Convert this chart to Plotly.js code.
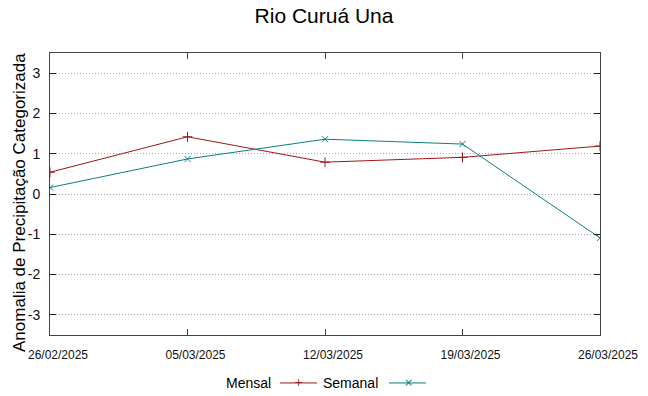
<!DOCTYPE html>
<html>
<head>
<meta charset="utf-8">
<script src="https://cdn.plot.ly/plotly-3.0.1.min.js"></script>
<style>html,body{margin:0;padding:0;background:#fff;}#chart{width:648px;height:396px;}</style>
</head>
<body>
<div id="chart"></div>
<script>
const dates = ["26/02/2025", "05/03/2025", "12/03/2025", "19/03/2025", "26/03/2025"];
const mensal = [0.54, 1.42, 0.79, 0.91, 1.19];
const semanal = [0.16, 0.87, 1.36, 1.24, -1.09];
const yTicks = [-3, -2, -1, 0, 1, 2, 3];
const seriesNames = ["Mensal", "Semanal"];
const yTitle = "Anomalia de Precipitação Categorizada";
const colMensal = "#a01616";
const colSemanal = "#0a7f7f";

const traces = [
  {x: dates, y: mensal, name: seriesNames[0], type: "scatter", mode: "lines+markers",
   line: {color: colMensal, width: 1},
   marker: {symbol: "cross-thin", size: 7, color: colMensal, line: {color: colMensal, width: 1}},
   showlegend: false},
  {x: dates, y: semanal, name: seriesNames[1], type: "scatter", mode: "lines+markers",
   line: {color: colSemanal, width: 1},
   marker: {symbol: "x-thin", size: 6, color: colSemanal, line: {color: colSemanal, width: 1}},
   showlegend: false}
];

const font = "Liberation Sans, Arial, sans-serif";
// custom gnuplot-style legend (text then sample), paper coords of plot area
const legY = -0.170;
const annotations = [
  {xref: "paper", yref: "paper", x: 0.4055, y: legY, text: seriesNames[0], showarrow: false, xanchor: "right", yanchor: "middle", font: {family: font, size: 14, color: "#000"}},
  {xref: "paper", yref: "paper", x: 0.6, y: legY, text: seriesNames[1], showarrow: false, xanchor: "right", yanchor: "middle", font: {family: font, size: 14, color: "#000"}},
  {xref: "paper", yref: "paper", x: 0.4527, y: legY, text: "+", showarrow: false, xanchor: "center", yanchor: "middle", font: {family: "DejaVu Sans", size: 11, color: colMensal}},
  {xref: "paper", yref: "paper", x: 0.651, y: legY, text: "×", showarrow: false, xanchor: "center", yanchor: "middle", font: {family: "DejaVu Sans", size: 11, color: colSemanal}},
  {xref: "paper", yref: "paper", x: -0.0564, y: 0.4716, text: yTitle, textangle: -90, showarrow: false, xanchor: "center", yanchor: "middle", font: {family: font, size: 17, color: "#000"}}
];
const shapes = [
  {type: "line", xref: "paper", yref: "paper", x0: 0.418, x1: 0.4855, y0: legY, y1: legY, line: {color: colMensal, width: 1}},
  {type: "line", xref: "paper", yref: "paper", x0: 0.6164, x1: 0.6836, y0: legY, y1: legY, line: {color: colSemanal, width: 1}}
];

const layout = {
  width: 648, height: 396,
  margin: {l: 50, r: 48, t: 53, b: 61, pad: 0},
  paper_bgcolor: "#fff", plot_bgcolor: "#fff",
  title: {text: "Rio Curuá Una", font: {family: font, size: 21, color: "#000"}, x: 0.5, xanchor: "center", y: 0.978, yanchor: "top"},
  showlegend: false,
  xaxis: {
    type: "category", range: [0, dates.length - 1],
    tickvals: dates, ticktext: dates,
    showgrid: false, zeroline: false,
    showline: true, linecolor: "#444", linewidth: 1, mirror: "ticks",
    ticks: "inside", ticklen: 6, tickcolor: "#444", tickwidth: 1,
    tickfont: {family: font, size: 12, color: "#111"},
    ticklabelstandoff: 9, ticklabelshift: 8
  },
  yaxis: {
    range: [-3.5, 3.5], tickvals: yTicks, ticktext: yTicks.map(String),
    showgrid: true, gridcolor: "#a8a8a8", griddash: "1px,2px", gridwidth: 1,
    zeroline: false,
    showline: true, linecolor: "#444", linewidth: 1, mirror: "ticks",
    ticks: "inside", ticklen: 6, tickcolor: "#222", tickwidth: 1,
    tickfont: {family: font, size: 14, color: "#111"},
    ticklabelstandoff: 6
  },
  annotations: annotations,
  shapes: shapes
};

Plotly.newPlot("chart", traces, layout, {displayModeBar: false, staticPlot: true});
</script>
</body>
</html>
